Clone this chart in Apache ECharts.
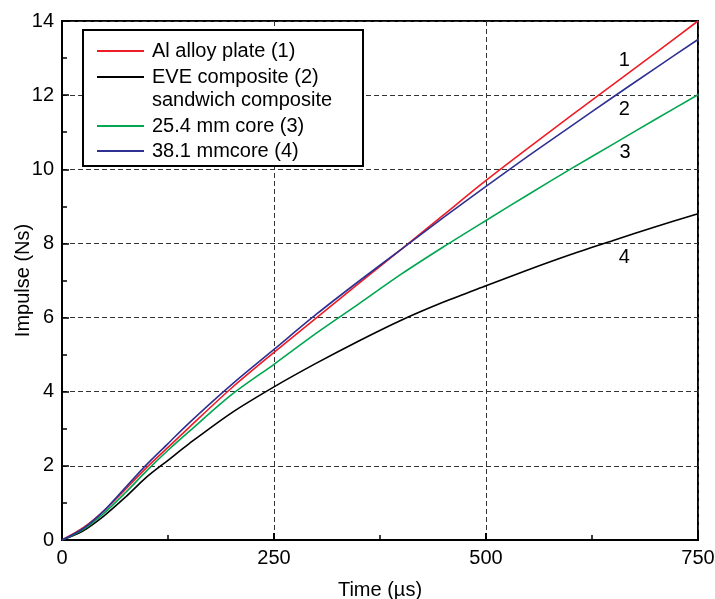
<!DOCTYPE html>
<html>
<head>
<meta charset="utf-8">
<script src="https://cdn.jsdelivr.net/npm/echarts@6/dist/echarts.min.js"></script>
<style>
html,body{margin:0;padding:0;background:#fff;}
#chart{width:715px;height:599px;}
</style>
</head>
<body>
<div id="chart"></div>
<script>
// time in microseconds
var times = [0, 25, 50, 75, 100, 125, 150, 200, 250, 300, 350, 400, 450, 500, 550, 600, 650, 700, 750];
var alPlate   = [0, 0.33, 0.80, 1.37, 1.96, 2.50, 3.04, 4.10, 5.06, 5.99, 6.92, 7.84, 8.77, 9.70, 10.58, 11.44, 12.29, 13.14, 14.00];
var eveComp   = [0, 0.25, 0.66, 1.16, 1.70, 2.15, 2.60, 3.43, 4.13, 4.77, 5.37, 5.93, 6.42, 6.86, 7.29, 7.70, 8.08, 8.45, 8.80];
var core254   = [0, 0.28, 0.73, 1.28, 1.87, 2.42, 2.93, 3.92, 4.74, 5.58, 6.37, 7.17, 7.91, 8.62, 9.32, 10.01, 10.68, 11.35, 12.01];
var core381   = [0, 0.31, 0.80, 1.42, 2.04, 2.60, 3.16, 4.19, 5.14, 6.09, 6.98, 7.84, 8.70, 9.54, 10.36, 11.16, 11.95, 12.73, 13.50];
var seriesNames = ['Al alloy plate (1)', 'EVE composite (2)', '25.4 mm core (3)', '38.1 mmcore (4)'];
var xTicks = [0, 250, 500, 750];
var yTicks = [0, 2, 4, 6, 8, 10, 12, 14];
var curveLabels = [
  {text: '1', x: 663, y: 12.94},
  {text: '2', x: 663, y: 11.62},
  {text: '3', x: 664, y: 10.46},
  {text: '4', x: 663, y: 7.63}
];
var colors = ['#ee1c25', '#000000', '#00a650', '#2e3192'];

function pairs(arr) { return times.map(function (t, i) { return [t, arr[i]]; }); }
var allData = [alPlate, eveComp, core254, core381];

var FONT = 'Liberation Sans, Arial, Helvetica, sans-serif';
var chart = echarts.init(document.getElementById('chart'), null, {renderer: 'canvas'});

var series = allData.map(function (d, i) {
  return {
    name: seriesNames[i],
    type: 'line',
    data: pairs(d),
    smooth: 0.3,
    showSymbol: false,
    symbol: 'none',
    lineStyle: {color: colors[i], width: 1.6},
    itemStyle: {color: colors[i]},
    z: 2
  };
});
series[0].markPoint = {
  symbol: 'circle',
  symbolSize: 0,
  silent: true,
  data: curveLabels.map(function (c) {
    return {
      coord: [c.x, c.y],
      label: {show: true, position: 'inside', formatter: c.text, color: '#000', fontSize: 20, fontFamily: FONT}
    };
  })
};

var legendCommon = {
  orient: 'vertical',
  left: 92,
  icon: 'rect',
  itemWidth: 47,
  itemHeight: 2,
  selectedMode: false,
  z: 10,
  textStyle: {color: '#000', fontSize: 20, fontFamily: FONT, lineHeight: 20, padding: [0, 0, 0, 3]}
};

var option = {
  backgroundColor: '#fff',
  animation: false,
  color: colors,
  grid: {left: 62, right: 17, top: 21, bottom: 59, show: true, borderColor: '#000', borderWidth: 2, containLabel: false, outerBoundsMode: 'none'},
  legend: [
    Object.assign({}, legendCommon, {top: 36, itemGap: 6, data: seriesNames.slice(0, 2)}),
    Object.assign({}, legendCommon, {top: 111, itemGap: 5, data: seriesNames.slice(2, 4)})
  ],
  graphic: [
    {type: 'rect', left: 82, top: 29, shape: {width: 280, height: 136}, style: {fill: '#fff', stroke: '#000', lineWidth: 2}, z: 3},
    {type: 'text', left: 152, top: 90, style: {text: 'sandwich composite', fill: '#000', font: '20px ' + FONT}, z: 20}
  ],
  xAxis: {
    type: 'value', min: xTicks[0], max: xTicks[xTicks.length - 1], interval: 250,
    name: 'Time (\u00b5s)', nameLocation: 'middle', nameGap: 40,
    nameTextStyle: {color: '#000', fontSize: 20, fontFamily: FONT},
    axisLine: {show: true, lineStyle: {color: '#000', width: 2}},
    axisTick: {show: true, inside: true, length: 7, lineStyle: {color: '#000', width: 2}},
    minorTick: {show: true, splitNumber: 2, length: 5, lineStyle: {color: '#000', width: 1.5}},
    axisLabel: {color: '#000', fontSize: 20, fontFamily: FONT, margin: 8},
    splitLine: {show: true, lineStyle: {color: '#333', width: 1, type: [5, 3]}},
    minorSplitLine: {show: false}
  },
  yAxis: {
    type: 'value', min: yTicks[0], max: yTicks[yTicks.length - 1], interval: 2,
    name: 'Impulse (Ns)', nameLocation: 'middle', nameGap: 29, nameMoveOverlap: false,
    nameTextStyle: {color: '#000', fontSize: 20, fontFamily: FONT},
    axisLine: {show: true, lineStyle: {color: '#000', width: 2}},
    axisTick: {show: true, inside: true, length: 7, lineStyle: {color: '#000', width: 1.5}},
    minorTick: {show: true, splitNumber: 2, length: 5, lineStyle: {color: '#000', width: 1.5}},
    axisLabel: {color: '#000', fontSize: 20, fontFamily: FONT, margin: 8},
    splitLine: {show: true, lineStyle: {color: '#333', width: 1, type: [5, 3]}},
    minorSplitLine: {show: false}
  },
  series: series
};
chart.setOption(option);
</script>
</body>
</html>
